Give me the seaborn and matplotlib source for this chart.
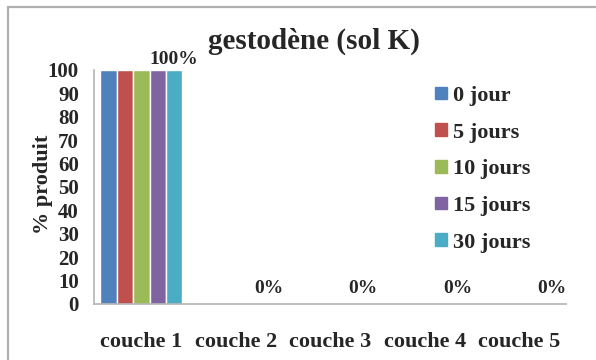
import matplotlib
matplotlib.use("Agg")
import matplotlib.pyplot as plt
from matplotlib.patches import Rectangle
import seaborn as sns
import pandas as pd

# data
couches = ['couche 1', 'couche 2', 'couche 3', 'couche 4', 'couche 5']
series = ['0 jour', '5 jours', '10 jours', '15 jours', '30 jours']
values = {
    '0 jour': [100, 0, 0, 0, 0],
    '5 jours': [100, 0, 0, 0, 0],
    '10 jours': [100, 0, 0, 0, 0],
    '15 jours': [100, 0, 0, 0, 0],
    '30 jours': [100, 0, 0, 0, 0],
}
colors = ['#4F81BD', '#C0504D', '#9BBB59', '#8064A2', '#4BACC6']

rows = []
for s in series:
    for c, v in zip(couches, values[s]):
        rows.append({'couche': c, 'serie': s, 'pct': v})
df = pd.DataFrame(rows)

sns.set_style("white")
plt.rcParams['font.family'] = ['Liberation Serif', 'DejaVu Serif']
plt.rcParams['font.weight'] = 'bold'

fig = plt.figure(figsize=(5.96, 3.6), dpi=100)
ax = fig.add_axes([0.158, 0.156, 0.792, 0.65])

sns.barplot(data=df, x='couche', y='pct', hue='serie', order=couches,
            hue_order=series, palette=colors, width=0.87, saturation=1,
            ax=ax, legend=True)

# only the last series carries data labels (full bar sits closer to its label)
last = ax.containers[-1]
vals = values['30 jours']
ax.bar_label(last, labels=[f"{v}%" if v > 0 else "" for v in vals],
             padding=1, fontsize=14, fontweight='bold')
ax.bar_label(last, labels=[f"{v}%" if v == 0 else "" for v in vals],
             padding=5, fontsize=14, fontweight='bold')

ax.set_ylim(0, 100)
ax.set_yticks(range(0, 101, 10))
ax.set_xlabel('')
ax.set_ylabel('% produit', fontsize=16, fontweight='bold')
ax.yaxis.set_label_coords(-0.087, 0.51)
ax.tick_params(axis='y', length=0, pad=11, labelsize=15)
ax.tick_params(axis='x', length=0, pad=20, labelsize=16)
for lab in ax.get_xticklabels() + ax.get_yticklabels():
    lab.set_fontweight('bold')

for side in ['top', 'right']:
    ax.spines[side].set_visible(False)
for side in ['left', 'bottom']:
    ax.spines[side].set_color('#b4b4b4')
    ax.spines[side].set_linewidth(1.2)

ax.legend_.remove()
handles = [Rectangle((0, 0), 1, 1, color=c) for c in colors]
fig.legend(handles, series, loc='upper left', bbox_to_anchor=(0.697, 0.817),
           frameon=False, handlelength=0.5, handleheight=0.5,
           handletextpad=0.3, labelspacing=0.75,
           prop={'weight': 'bold', 'size': 16})

fig.text(0.526, 0.885, 'gestodène (sol K)', ha='center', va='center',
         fontsize=21, fontweight='bold')

# outer chart border (only top and left visible in the crop)
fig.add_artist(Rectangle((0.014, -0.1), 1.1, 1.08, transform=fig.transFigure,
                         fill=False, edgecolor='#b0b0b0', linewidth=1.6))

fig.savefig('out.png', dpi=100)
